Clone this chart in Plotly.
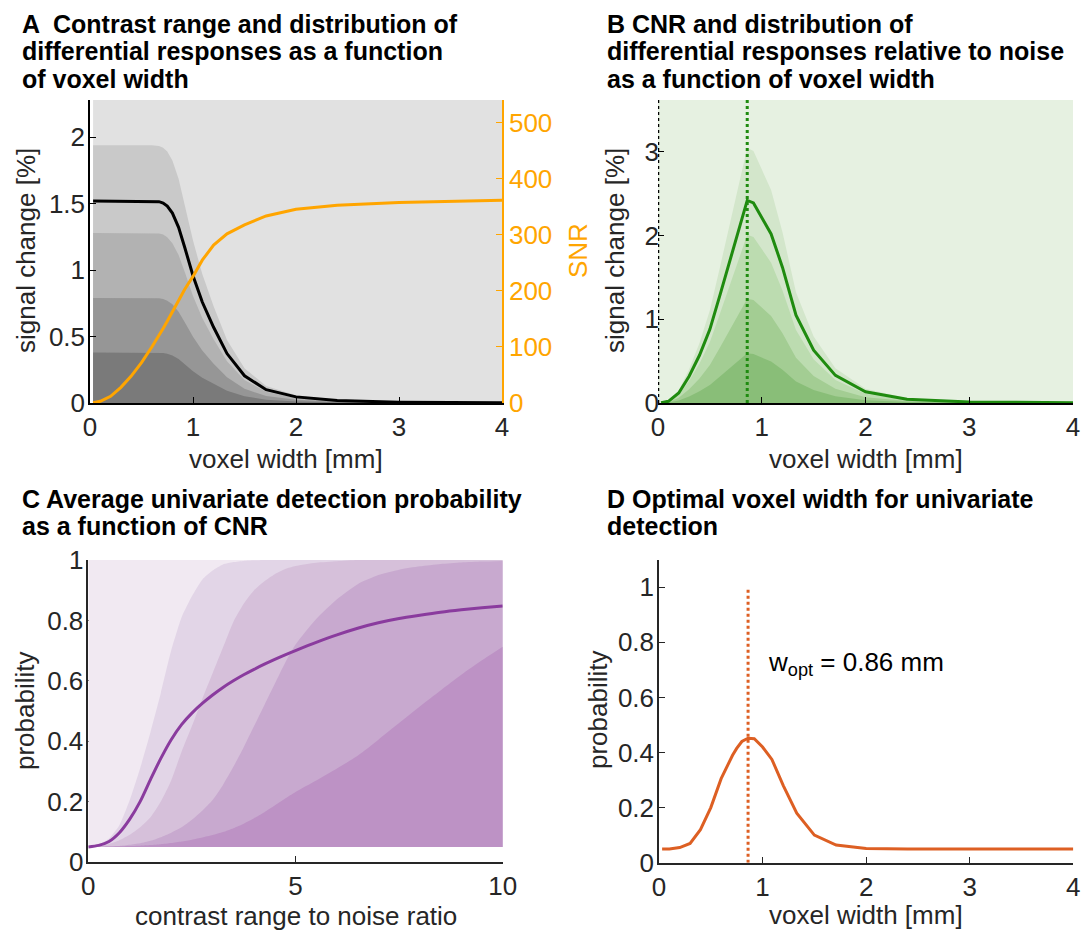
import plotly.graph_objects as go

# ---------------- data ----------------
# voxel widths [mm] (panels A, B, D)
W_GRID = [0.03, 0.1, 0.2, 0.3, 0.4, 0.5, 0.6, 0.67, 0.71, 0.75, 0.8, 0.86, 0.92,
          1.0, 1.09, 1.2, 1.33, 1.5, 1.71, 2.0, 2.4, 3.0, 4.0]
W_OPT = 0.86

# Panel A: contrast range (signal change %) quantile bands + mean, SNR
A_Q4 = [1.94, 1.94, 1.94, 1.94, 1.94, 1.94, 1.94, 1.934, 1.921, 1.892, 1.824, 1.688, 1.494,
        1.222, 0.970, 0.728, 0.475, 0.262, 0.128, 0.058, 0.023, 0.008, 0.003]
A_Q3 = [1.28, 1.28, 1.28, 1.28, 1.28, 1.28, 1.28, 1.276, 1.267, 1.248, 1.203, 1.114, 0.986,
        0.806, 0.640, 0.480, 0.314, 0.173, 0.084, 0.038, 0.015, 0.005, 0.002]
A_Q2 = [0.79, 0.79, 0.79, 0.79, 0.79, 0.79, 0.79, 0.788, 0.782, 0.770, 0.743, 0.687, 0.608,
        0.498, 0.395, 0.296, 0.194, 0.107, 0.052, 0.024, 0.009, 0.003, 0.001]
A_Q1 = [0.38, 0.38, 0.38, 0.38, 0.38, 0.38, 0.38, 0.379, 0.376, 0.371, 0.357, 0.331, 0.293,
        0.239, 0.190, 0.143, 0.093, 0.051, 0.025, 0.011, 0.005, 0.002, 0.0005]
A_MEAN = [1.52, 1.52, 1.52, 1.52, 1.52, 1.52, 1.52, 1.515, 1.505, 1.482, 1.429, 1.322, 1.170,
          0.958, 0.760, 0.570, 0.372, 0.205, 0.100, 0.046, 0.018, 0.006, 0.002]
A_SNR = [0.5, 3, 12, 28, 48, 72, 100, 120, 133, 146, 163, 185, 203,
         226, 255, 282, 302, 318, 334, 346, 353, 358, 362]

# Panel B: CNR bands + mean
B_Q4 = [0.004, 0.025, 0.151, 0.403, 0.718, 1.109, 1.638, 2.016, 2.243, 2.482, 2.734, 3.049, 3.011,
        2.797, 2.545, 2.041, 1.323, 0.794, 0.416, 0.170, 0.057, 0.015, 0.004]
B_Q3 = [0.002, 0.017, 0.100, 0.266, 0.473, 0.730, 1.079, 1.328, 1.477, 1.635, 1.801, 2.009, 1.984,
        1.843, 1.677, 1.345, 0.872, 0.523, 0.274, 0.112, 0.037, 0.010, 0.002]
B_Q2 = [0.002, 0.010, 0.062, 0.165, 0.294, 0.453, 0.670, 0.824, 0.917, 1.015, 1.118, 1.246, 1.231,
        1.143, 1.040, 0.834, 0.541, 0.324, 0.170, 0.070, 0.023, 0.006, 0.002]
B_Q1 = [0.001, 0.005, 0.029, 0.078, 0.140, 0.216, 0.319, 0.392, 0.436, 0.483, 0.532, 0.593, 0.586,
        0.544, 0.495, 0.397, 0.257, 0.154, 0.081, 0.033, 0.011, 0.003, 0.001]
B_MEAN = [0.003, 0.02, 0.12, 0.32, 0.57, 0.88, 1.30, 1.60, 1.78, 1.97, 2.17, 2.42, 2.39,
          2.22, 2.02, 1.62, 1.05, 0.63, 0.33, 0.135, 0.045, 0.012, 0.003]

# Panel C: detection probability vs contrast range to noise ratio
C_GRID = [0, 0.25, 0.5, 0.75, 1, 1.25, 1.5, 1.75, 2, 2.25, 2.5, 2.75, 3, 3.25, 3.5, 3.75,
          4, 4.25, 4.5, 4.75, 5, 5.5, 6, 6.5, 7, 7.5, 8, 8.5, 9, 9.5, 10]
C_BASE = 0.05
C_TOP = 1.0
C_B2 = [0.05, 0.058, 0.078, 0.122, 0.205, 0.31, 0.43, 0.56, 0.70, 0.81, 0.88, 0.935, 0.965,
        0.985, 0.993, 0.997, 0.999, 1.0, 1.0, 1.0, 1.0, 1.0, 1.0, 1.0, 1.0, 1.0, 1.0, 1.0,
        1.0, 1.0, 1.0]
C_B3 = [0.05, 0.053, 0.06, 0.072, 0.09, 0.115, 0.148, 0.20, 0.27, 0.365, 0.45, 0.54, 0.625,
        0.71, 0.795, 0.855, 0.90, 0.93, 0.953, 0.97, 0.98, 0.991, 0.996, 1.0, 1.0, 1.0, 1.0,
        1.0, 1.0, 1.0, 1.0]
C_B4 = [0.05, 0.05, 0.051, 0.053, 0.057, 0.062, 0.07, 0.082, 0.097, 0.115, 0.14, 0.17, 0.205,
        0.255, 0.315, 0.38, 0.45, 0.52, 0.59, 0.66, 0.72, 0.805, 0.87, 0.92, 0.95, 0.968,
        0.979, 0.987, 0.992, 0.995, 0.997]
C_B5 = [0.05, 0.05, 0.051, 0.052, 0.053, 0.054, 0.056, 0.059, 0.063, 0.068, 0.074, 0.081,
        0.089, 0.099, 0.112, 0.127, 0.145, 0.165, 0.187, 0.21, 0.232, 0.27, 0.31, 0.352,
        0.405, 0.46, 0.515, 0.568, 0.62, 0.668, 0.713]
C_MEAN = [0.05, 0.055, 0.068, 0.097, 0.142, 0.20, 0.273, 0.343, 0.405, 0.455, 0.493, 0.525,
          0.553, 0.578, 0.60, 0.62, 0.638, 0.655, 0.671, 0.686, 0.70, 0.727, 0.752, 0.774,
          0.792, 0.806, 0.817, 0.827, 0.835, 0.842, 0.848]

# Panel D: detection probability vs voxel width
D_PROB = [0.05, 0.05, 0.055, 0.07, 0.12, 0.20, 0.305, 0.36, 0.39, 0.415, 0.44, 0.452, 0.45,
          0.42, 0.375, 0.28, 0.18, 0.10, 0.064, 0.052, 0.05, 0.05, 0.05]

# ---------------- style ----------------
FONT = "Liberation Sans"
TXT = "#262626"
W, H = 1089, 933

def px(x):
    return x / W

def py(y):
    return 1 - y / H

GRAY = ["#c9c9c9", "#b2b2b2", "#969696", "#7a7a7a"]
GREEN_BANDS = ["#d3e6cb", "#bcdcb0", "#a3cd93", "#89be78"]
PURPLE_BANDS = ["#e2d5e7", "#d6c0da", "#c8a9cf", "#bd92c5"]
ORANGE = "#ffa500"
GREEN = "#1f8b0f"
PURPLE = "#8a3b9e"
DORANGE = "#dd5f23"

fig = go.Figure()

# ---- Panel A ----
for band, col in zip([A_Q4, A_Q3, A_Q2, A_Q1], GRAY):
    fig.add_trace(go.Scatter(x=W_GRID, y=band, mode="lines", fill="tozeroy", fillcolor=col,
                             line=dict(width=0), xaxis="x", yaxis="y", hoverinfo="skip"))
fig.add_trace(go.Scatter(x=W_GRID, y=A_MEAN, mode="lines", line=dict(color="black", width=3),
                         xaxis="x", yaxis="y"))
fig.add_trace(go.Scatter(x=W_GRID, y=A_SNR, mode="lines", line=dict(color=ORANGE, width=3),
                         xaxis="x", yaxis="y5"))

# ---- Panel B ----
for band, col in zip([B_Q4, B_Q3, B_Q2, B_Q1], GREEN_BANDS):
    fig.add_trace(go.Scatter(x=W_GRID, y=band, mode="lines", fill="tozeroy", fillcolor=col,
                             line=dict(width=0), xaxis="x2", yaxis="y2", hoverinfo="skip"))
fig.add_trace(go.Scatter(x=W_GRID, y=B_MEAN, mode="lines", line=dict(color=GREEN, width=3),
                         xaxis="x2", yaxis="y2"))
fig.add_trace(go.Scatter(x=[W_OPT, W_OPT], y=[0, 3.62], mode="lines",
                         line=dict(color=GREEN, width=3, dash="dot"), xaxis="x2", yaxis="y2"))
fig.add_trace(go.Scatter(x=[0, 0], y=[0, 3.62], mode="lines",
                         line=dict(color="black", width=2.5, dash="dot"), xaxis="x2", yaxis="y2"))

# ---- Panel C ----
fig.add_trace(go.Scatter(x=[C_GRID[0], C_GRID[-1], C_GRID[-1], C_GRID[0]],
                         y=[C_BASE, C_BASE, C_TOP, C_TOP], mode="lines", fill="toself",
                         fillcolor="#f1e9f2", line=dict(width=0), xaxis="x3", yaxis="y3",
                         hoverinfo="skip"))
for band, col in zip([C_B2, C_B3, C_B4, C_B5], PURPLE_BANDS):
    fig.add_trace(go.Scatter(x=C_GRID, y=[C_BASE] * len(C_GRID), mode="lines",
                             line=dict(width=0), xaxis="x3", yaxis="y3", hoverinfo="skip"))
    fig.add_trace(go.Scatter(x=C_GRID, y=band, mode="lines", fill="tonexty", fillcolor=col,
                             line=dict(width=0, shape="spline", smoothing=0.6),
                             xaxis="x3", yaxis="y3", hoverinfo="skip"))
fig.add_trace(go.Scatter(x=C_GRID, y=C_MEAN, mode="lines",
                         line=dict(color=PURPLE, width=3, shape="spline", smoothing=0.8),
                         xaxis="x3", yaxis="y3"))

# ---- Panel D ----
fig.add_trace(go.Scatter(x=[W_OPT, W_OPT], y=[0, 1], mode="lines",
                         line=dict(color=DORANGE, width=3, dash="dot"), xaxis="x4", yaxis="y4"))
fig.add_trace(go.Scatter(x=W_GRID, y=D_PROB, mode="lines", line=dict(color=DORANGE, width=3),
                         xaxis="x4", yaxis="y4"))

tickfont = dict(family=FONT, size=26, color=TXT)

def xax(dom, rng, tickvals, linecolor, anchor, layer="above traces"):
    return dict(domain=dom, range=rng, tickvals=tickvals, ticks="inside", ticklen=6,
                tickcolor=linecolor, showline=True, linecolor=linecolor, linewidth=1.5,
                showgrid=False, zeroline=False, tickfont=tickfont, layer=layer,
                fixedrange=True, automargin=False, anchor=anchor)

def yax(dom, rng, tickvals, ticktext, linecolor, anchor, showline=True, layer="above traces"):
    return dict(domain=dom, range=rng, tickvals=tickvals, ticktext=ticktext, ticks="inside",
                ticklen=6, tickcolor=linecolor, showline=showline, linecolor=linecolor,
                linewidth=1.5, showgrid=False, zeroline=False, tickfont=tickfont,
                anchor=anchor, layer=layer, fixedrange=True, automargin=False,
                ticklabelstandoff=-2)

A_X = [px(90), px(502)]
A_Y = [py(403), py(100)]
B_X = [px(658), px(1073)]
C_X = [px(88.3), px(502.7)]
C_Y = [py(862), py(560)]
D_X = [px(659), px(1073.3)]
D_Y = [py(862.7), py(559.7)]

annotations = []

def title_lines(lines, x, centers):
    for t, yc in zip(lines, centers):
        annotations.append(dict(text="<b>" + t + "</b>", x=px(x), y=py(yc), xref="paper",
                                yref="paper", xanchor="left", yanchor="middle", showarrow=False,
                                font=dict(family=FONT, size=25, color="black")))

title_lines(["A  Contrast range and distribution of",
             "differential responses as a function",
             "of voxel width"], 20, [23.5, 51.3, 79])
title_lines(["B CNR and distribution of",
             "differential responses relative to noise",
             "as a function of voxel width"], 605, [23.5, 51.3, 79])
title_lines(["C Average univariate detection probability",
             "as a function of CNR"], 20, [498.5, 525.5])
title_lines(["D Optimal voxel width for univariate",
             "detection"], 605, [498.5, 525.5])

def label(text, x, y, angle=0, color=TXT):
    annotations.append(dict(text=text, x=px(x), y=py(y), xref="paper", yref="paper",
                            xanchor="center", yanchor="middle", showarrow=False, textangle=angle,
                            font=dict(family=FONT, size=26, color=color)))

label("voxel width [mm]", 286, 459)
label("voxel width [mm]", 866, 459)
label("contrast range to noise ratio", 296, 916)
label("voxel width [mm]", 866, 915)
label("signal change [%]", 26, 251, -90)
label("signal change [%]", 615, 251, -90)
label("probability", 25, 711, -90)
label("probability", 598, 710, -90)
label("SNR", 578, 251, -90, ORANGE)

annotations.append(dict(text="w<sub>opt</sub> = 0.86 mm", x=1.03, y=0.725, xref="x4", yref="y4",
                        xanchor="left", yanchor="middle", showarrow=False,
                        font=dict(family=FONT, size=26, color="black")))

shapes = [
    dict(type="rect", xref="x", yref="y domain", x0=0.03, x1=4, y0=0, y1=1,
         fillcolor="#e1e1e1", line=dict(width=0), layer="below"),
    dict(type="rect", xref="x2", yref="y2 domain", x0=0.0, x1=4, y0=0, y1=1,
         fillcolor="#e6f1e1", line=dict(width=0), layer="below"),
]

fig.update_layout(
    template="none",
    width=W, height=H, margin=dict(l=0, r=0, t=0, b=0, pad=0), autosize=False,
    paper_bgcolor="white", plot_bgcolor="rgba(0,0,0,0)", showlegend=False,
    font=dict(family=FONT, color=TXT),
    xaxis=xax(A_X, [0, 4], [0, 1, 2, 3, 4], "black", "y"),
    yaxis=yax(A_Y, [0, 2.28], [0, 0.5, 1, 1.5, 2], ["0", "0.5", "1", "1.5", "2"], "black", "x"),
    yaxis5=dict(domain=A_Y, range=[0, 541], overlaying="y", side="right", anchor="x",
                tickvals=[0, 100, 200, 300, 400, 500], ticks="inside", ticklen=6,
                tickcolor=ORANGE, showline=True, linecolor=ORANGE, linewidth=1.5,
                showgrid=False, zeroline=False, fixedrange=True, automargin=False,
                tickfont=dict(family=FONT, size=26, color=ORANGE)),
    xaxis2=xax(B_X, [0, 4], [0, 1, 2, 3, 4], "black", "y2"),
    yaxis2=yax(A_Y, [0, 3.62], [0, 1, 2, 3], ["0", "1", "2", "3"], "black", "x2",
               showline=False),
    xaxis3=xax(C_X, [0, 10], [0, 5, 10], TXT, "y3", layer="below traces"),
    yaxis3=yax(C_Y, [0, 1.0], [0, 0.2, 0.4, 0.6, 0.8, 1],
               ["0", "0.2", "0.4", "0.6", "0.8", "1"], TXT, "x3", layer="below traces"),
    xaxis4=xax(D_X, [0, 4], [0, 1, 2, 3, 4], TXT, "y4"),
    yaxis4=yax(D_Y, [0, 1.1], [0, 0.2, 0.4, 0.6, 0.8, 1],
               ["0", "0.2", "0.4", "0.6", "0.8", "1"], TXT, "x4"),
    annotations=annotations,
    shapes=shapes,
)

fig.write_html("out.html")
